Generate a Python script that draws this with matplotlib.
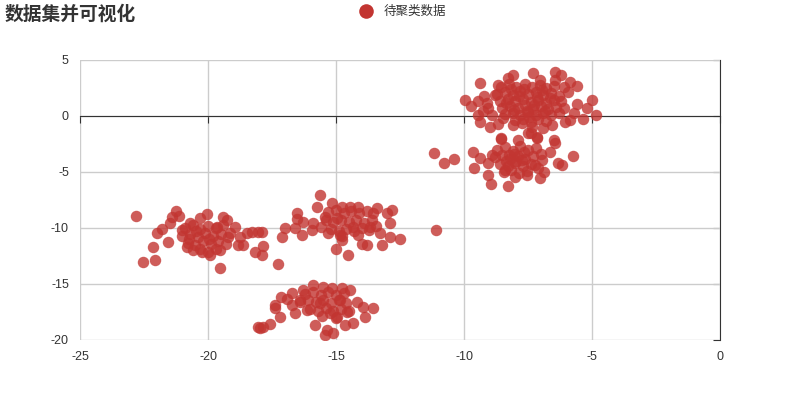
import numpy as np
import matplotlib
matplotlib.use('Agg')
import matplotlib.pyplot as plt
from matplotlib.lines import Line2D

plt.rcParams['font.family'] = ['Liberation Sans', 'Noto Sans CJK SC']
plt.rcParams['axes.unicode_minus'] = False

# cluster points (x, y)
cluster_a = [
    (-9.96, 1.43), (-9.73, 0.89), (-9.38, 2.95), (-9.45, 1.34), (-9.22, 1.79), (-9.38, -0.54),
    (-9.45, 0.09), (-8.98, -0.98), (-8.67, -0.71), (-8.55, -1.96), (-7.89, -2.14), (-7.5, -1.52),
    (-7.15, -1.96), (-6.48, -2.14), (-8.09, 3.66), (-7.3, 3.84), (-6.45, 3.93), (-6.21, 3.66),
    (-8.28, 3.39), (-5.86, 3.04), (-5.59, 2.68), (-5.0, 1.43), (-4.84, 0.09), (-5.2, 0.71),
    (-5.35, -0.27), (-5.86, -0.36), (-6.05, -0.54), (-6.56, -0.8), (-6.91, -1.07), (-7.03, 3.21),
    (-8.67, 2.77), (-8.79, 1.88), (-6.45, 3.21), (-5.94, 2.14), (-9.06, 0.71), (-8.91, 0.09),
    (-8.48, -0.18), (-8.09, -0.8), (-7.73, -0.63), (-7.34, -0.98),
    (-8.55, 2.6), (-8.25, 2.85), (-7.95, 2.55), (-7.62, 2.9), (-7.35, 2.6), (-7.05, 2.75),
    (-6.78, 2.5), (-6.5, 2.65), (-8.7, 1.95), (-8.4, 2.1), (-8.1, 1.85), (-7.8, 2.2), (-7.5, 1.95),
    (-7.2, 2.15), (-6.9, 1.9), (-6.6, 2.05), (-6.3, 1.8), (-8.6, 1.35), (-8.3, 1.5), (-8.0, 1.3),
    (-7.7, 1.55), (-7.4, 1.25), (-7.1, 1.45), (-6.8, 1.2), (-6.5, 1.4), (-6.2, 1.3), (-8.5, 0.75),
    (-8.2, 0.9), (-7.9, 0.7), (-7.6, 0.95), (-7.3, 0.65), (-7.0, 0.85), (-6.7, 0.6), (-6.4, 0.8),
    (-6.1, 0.7), (-8.4, 0.15), (-8.1, 0.3), (-7.8, 0.1), (-7.5, 0.35), (-7.2, 0.05), (-6.9, 0.25),
    (-6.6, 0.1), (-6.3, 0.3), (-8.0, -0.4), (-7.7, -0.25), (-7.4, -0.5), (-7.1, -0.3), (-6.8, -0.45),
    (-7.85, 1.75), (-7.25, 1.0), (-6.95, 2.35), (-8.15, 2.4), (-7.55, 0.45),
    (-8.35, 1.15), (-7.65, 2.45), (-7.15, 1.7), (-6.65, 1.6), (-8.05, 0.55), (-6.85, 0.45),
    (-7.45, -0.1), (-5.7, 0.3), (-5.6, 1.1), (-9.1, 1.2), (-9.25, 0.45), (-6.1, 2.6),
]

cluster_b = [
    (-11.17, -3.3), (-10.78, -4.2), (-10.39, -3.84), (-9.65, -3.21), (-9.61, -4.64), (-9.38, -3.75),
    (-9.06, -5.27), (-8.95, -6.07), (-8.55, -2.05), (-8.28, -6.25), (-8.0, -5.45), (-7.54, -5.27),
    (-7.03, -5.54), (-6.88, -5.0), (-6.33, -4.2), (-6.17, -4.38), (-5.74, -3.57), (-6.45, -2.41),
    (-6.64, -3.21), (-7.15, -1.88), (-7.38, -1.52), (-8.91, -3.48), (-9.06, -4.2), (-6.95, -3.93),
    (-7.23, -4.38), (-8.4, -4.82),
    (-8.7, -3.0), (-8.4, -2.8), (-8.1, -3.1), (-7.8, -2.7), (-7.5, -3.0), (-7.2, -2.85),
    (-8.8, -3.7), (-8.5, -3.5), (-8.2, -3.8), (-7.9, -3.55), (-7.6, -3.85), (-7.3, -3.6), (-7.0, -3.4),
    (-8.6, -4.3), (-8.3, -4.5), (-8.0, -4.2), (-7.7, -4.45), (-7.4, -4.25), (-7.1, -4.6),
    (-8.45, -5.0), (-8.15, -4.85), (-7.85, -5.1), (-7.55, -4.9), (-8.05, -3.35), (-7.65, -3.25),
    (-8.35, -4.05), (-7.95, -4.0), (-8.25, -3.45), (-7.75, -3.9),
]

cluster_c = [
    (-22.81, -8.93), (-22.54, -13.04), (-22.07, -12.86), (-22.15, -11.7), (-21.99, -10.45),
    (-21.8, -10.09), (-21.56, -11.25), (-21.41, -9.02), (-21.25, -8.48), (-21.13, -8.93),
    (-21.48, -9.55), (-21.02, -10.18), (-20.82, -11.7), (-20.7, -9.55), (-20.31, -9.11),
    (-20.04, -8.75), (-20.23, -12.14), (-19.92, -12.41), (-19.53, -13.57), (-19.65, -9.91),
    (-19.41, -9.02), (-19.26, -9.29), (-19.53, -11.96), (-19.14, -10.45), (-18.95, -9.91),
    (-18.83, -11.52), (-18.63, -11.52), (-18.48, -10.45), (-18.28, -10.36), (-18.16, -12.14),
    (-18.05, -10.36), (-17.89, -10.36), (-17.85, -11.61), (-17.89, -12.41), (-18.75, -10.8),
    (-20.9, -10.0), (-20.6, -9.7), (-20.3, -10.1), (-20.0, -9.8), (-19.7, -10.0), (-19.4, -9.7),
    (-21.0, -10.7), (-20.7, -10.5), (-20.4, -10.8), (-20.1, -10.45), (-19.8, -10.75), (-19.5, -10.5),
    (-19.2, -10.8), (-20.8, -11.3), (-20.5, -11.5), (-20.2, -11.2), (-19.9, -11.45), (-19.6, -11.2),
    (-19.3, -11.4), (-20.6, -12.0), (-20.3, -11.85), (-20.0, -12.1), (-19.7, -11.9),
    (-20.45, -10.3), (-19.95, -11.0), (-20.75, -11.0),
]

cluster_d = [
    (-15.63, -7.05), (-15.74, -8.13), (-15.16, -7.77), (-16.52, -8.66), (-16.52, -9.2),
    (-16.29, -9.46), (-16.99, -10.0), (-17.11, -10.8), (-17.27, -13.21), (-16.6, -10.0),
    (-16.33, -10.63), (-15.94, -10.18), (-15.31, -10.45), (-14.84, -10.63), (-15.0, -11.88),
    (-14.53, -12.41), (-14.77, -11.07), (-13.98, -11.43), (-13.79, -11.52), (-13.2, -11.52),
    (-12.89, -10.8), (-12.5, -10.98), (-12.89, -9.55), (-12.81, -8.39), (-13.01, -8.66),
    (-13.4, -8.21), (-13.55, -8.66), (-14.14, -8.13), (-14.45, -8.13), (-14.77, -8.13),
    (-13.28, -10.45), (-11.09, -10.18), (-15.9, -9.55), (-15.43, -9.02), (-14.34, -9.91),
    (-13.67, -9.91), (-14.96, -9.11),
    (-15.3, -8.6), (-15.0, -8.4), (-14.7, -8.7), (-14.4, -8.45), (-14.1, -8.7), (-13.8, -8.5),
    (-15.4, -9.3), (-15.1, -9.5), (-14.8, -9.25), (-14.5, -9.5), (-14.2, -9.3), (-13.9, -9.55),
    (-13.6, -9.3), (-15.2, -10.1), (-14.9, -10.3), (-14.6, -10.05), (-14.3, -10.25), (-14.0, -10.0),
    (-13.7, -10.2), (-14.75, -10.7), (-14.15, -10.6), (-15.6, -9.9), (-13.45, -9.8),
]

cluster_e = [
    (-15.9, -15.09), (-16.29, -15.54), (-16.72, -15.8), (-17.15, -16.16), (-17.38, -16.88),
    (-17.38, -17.14), (-17.19, -17.95), (-17.58, -18.57), (-17.85, -18.84), (-17.97, -18.93),
    (-16.6, -17.59), (-15.82, -18.66), (-15.43, -19.55), (-15.12, -19.38), (-15.35, -19.11),
    (-14.65, -18.66), (-14.34, -18.48), (-13.87, -17.95), (-13.55, -17.14), (-13.95, -17.05),
    (-14.18, -16.61), (-14.45, -15.54), (-14.77, -15.36), (-15.16, -15.36), (-15.51, -15.27),
    (-14.84, -16.43), (-14.57, -17.5), (-16.41, -16.43), (-16.13, -17.32), (-15.63, -16.7),
    (-15.24, -17.59), (-14.96, -17.95), (-18.05, -18.84),
    (-16.2, -15.9), (-15.9, -15.7), (-15.6, -16.0), (-15.3, -15.75), (-15.0, -16.0), (-14.7, -15.8),
    (-16.4, -16.6), (-16.1, -16.4), (-15.8, -16.65), (-15.5, -16.4), (-15.2, -16.7), (-14.9, -16.45),
    (-14.6, -16.7), (-16.0, -17.2), (-15.7, -17.4), (-15.4, -17.15), (-15.1, -17.4), (-14.8, -17.2),
    (-14.5, -17.45), (-15.55, -17.9), (-15.0, -18.0), (-16.7, -16.9), (-16.9, -16.3),
]

x_ticks = [-25, -20, -15, -10, -5, 0]
y_ticks = [-20, -15, -10, -5, 0, 5]

pts = np.array(cluster_a + cluster_b + cluster_c + cluster_d + cluster_e)

fig = plt.figure(figsize=(8, 4), dpi=100)
ax = fig.add_axes([0.1, 0.15, 0.8, 0.7])
red = '#c23531'

ax.scatter(pts[:, 0], pts[:, 1], s=68, color=red, alpha=0.8, linewidths=0, zorder=3)

ax.set_xlim(-25, 0)
ax.set_ylim(-20, 5)
ax.set_xticks(x_ticks)
ax.set_yticks(y_ticks)
ax.grid(True, color='#cccccc', linewidth=1)
ax.set_axisbelow(True)

# x axis line sits at y = 0, ticks point down
ax.spines['bottom'].set_position(('data', 0))
ax.spines['bottom'].set_color('#333333')
ax.spines['left'].set_visible(False)
ax.spines['top'].set_visible(False)
ax.spines['right'].set_visible(False)
ax.tick_params(axis='x', direction='out', length=5, color='#333333', labelbottom=False)
ax.tick_params(axis='y', length=0, labelsize=9, labelcolor='#333333', pad=8)

# labels along the bottom edge
sec_x = ax.secondary_xaxis('bottom')
sec_x.set_xticks(x_ticks)
sec_x.spines['bottom'].set_visible(False)
sec_x.tick_params(length=0, labelsize=9, labelcolor='#333333', pad=8)

# y axis line at x = 0 (right edge), ticks pointing left
sec_y = ax.secondary_yaxis('right')
sec_y.set_yticks(y_ticks)
sec_y.spines['right'].set_color('#333333')
sec_y.tick_params(direction='in', length=5, color='#333333', labelright=False)

fig.text(0.006, 0.963, '数据集并可视化', fontsize=13.5, fontweight='bold',
         color='#333333', va='center', ha='left')

handle = Line2D([], [], marker='o', linestyle='none', markersize=10.5,
                color=red, markeredgewidth=0)
fig.legend([handle], ['待聚类数据'], loc='center', bbox_to_anchor=(0.5, 0.97),
           frameon=False, fontsize=9, handletextpad=0.4, labelcolor='#333333')

fig.savefig('out.png', dpi=100)
